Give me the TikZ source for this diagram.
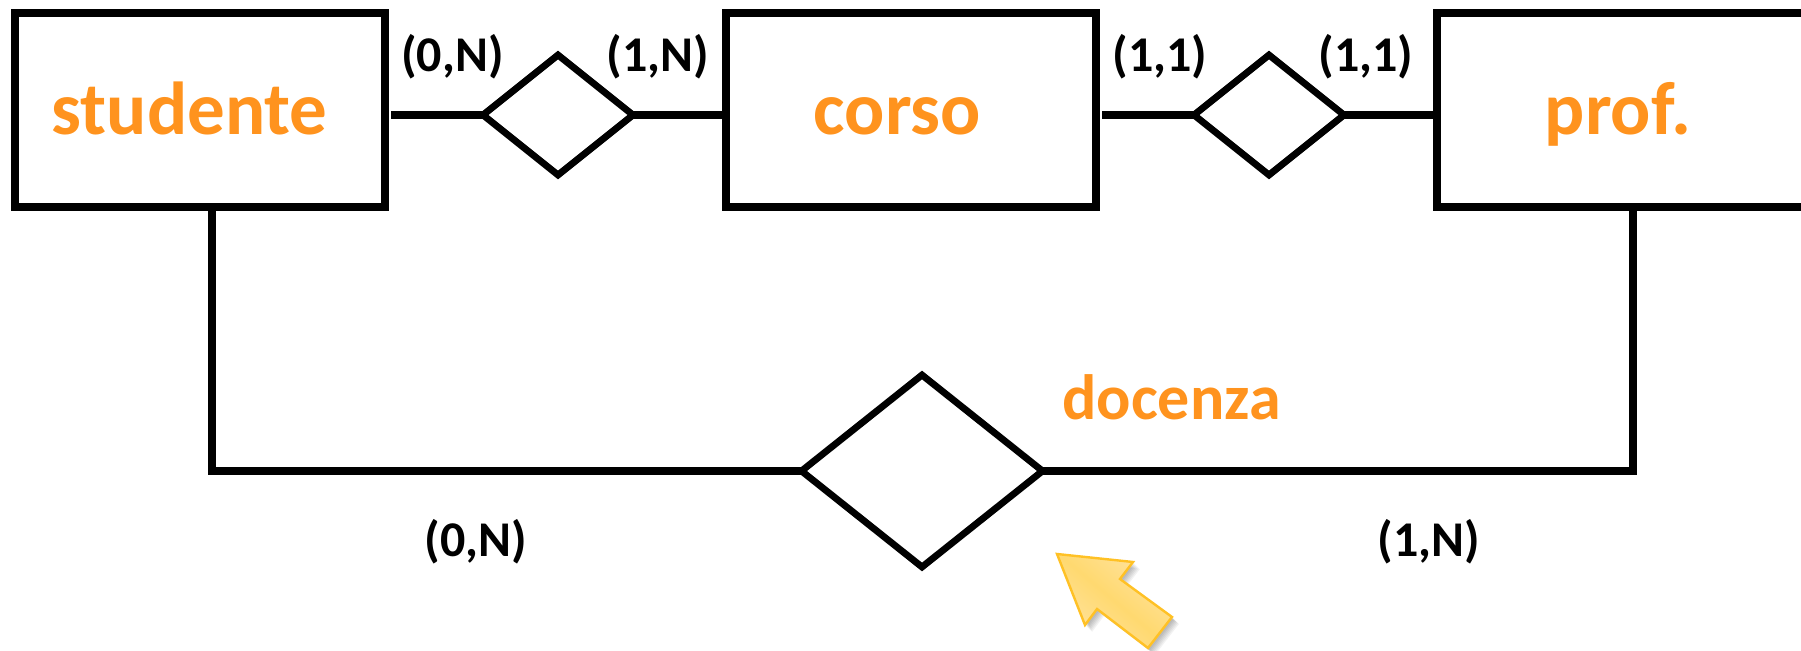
\documentclass[tikz,border=0pt]{standalone}
\usepackage{fontspec}
\setmainfont{Carlito}
\usetikzlibrary{shapes.geometric,positioning,calc}
\definecolor{titleorange}{HTML}{FF931E}
\definecolor{arrowlight}{HTML}{FFE3A0}
\definecolor{arrowmid}{HTML}{FFD970}
\definecolor{arrowedge}{HTML}{FFC125}
\tikzset{
  entity/.style={draw=black, line width=4pt, fill=white, minimum width=185pt, minimum height=97pt, inner sep=0pt},
  entityname/.style={anchor=base, inner sep=0pt, font=\bfseries\fontsize{37.5pt}{37.5pt}\selectfont, text=titleorange},
  relation/.style={draw=black, line width=3.4pt, fill=white, diamond, inner sep=0pt, outer sep=0pt},
  card/.style={anchor=base, font=\bfseries\fontsize{25pt}{25pt}\selectfont, text=black, inner sep=0pt},
  link/.style={draw=black, line width=3.8pt}
}
\begin{document}
\begin{tikzpicture}[x=0.5pt,y=-0.5pt]
  \useasboundingbox (0,0) rectangle (1801,651);
  % entities
  \node[entity] (studente) at (200,110) {};
  \node[entity] (corso) at (911,110) {};
  \node[entity] (prof) at (1622,110) {};
  \node[entityname] (studentename) at (189.5,135) {studente};
  \node[entityname] (corsoname) at (897.5,135) {corso};
  \node[entityname] (profname) at (1618,135) {prof.};
  % relations
  \node[relation, minimum width=75pt, minimum height=60pt] (frequenta) at (558,115) {};
  \node[relation, minimum width=75pt, minimum height=60pt] (tiene) at (1269,115) {};
  \node[relation, minimum width=120.5pt, minimum height=96pt] (docenza) at (922,471) {};
  % links
  \draw[link] (studente.east |- frequenta.west) ++(2,0) -- (frequenta.west);
  \draw[link] (frequenta.east) -- (corso.west |- frequenta.east);
  \draw[link] (corso.east |- tiene.west) ++(2,0) -- (tiene.west);
  \draw[link] (tiene.east) -- (prof.west |- tiene.east);
  \coordinate (cornerleft) at (212,471);
  \coordinate (cornerright) at (1633,471);
  \draw[link, line join=miter] (cornerleft |- studente.south) -- (cornerleft) -- (docenza.west);
  \draw[link, line join=miter] (cornerright |- prof.south) -- (cornerright) -- (docenza.east);
  % cardinalities
  \node[card] (cardA) at (452.5,71.5) {(0,N)};
  \node[card] (cardB) at (658,71.5) {(1,N)};
  \node[card] (cardC) at (1160,71.5) {(1,1)};
  \node[card] (cardD) at (1366,71.5) {(1,1)};
  \node[card] (cardE) at (476,556.5) {(0,N)};
  \node[card] (cardF) at (1429,556.5) {(1,N)};
  \node[entityname, font=\bfseries\fontsize{32pt}{32pt}\selectfont] (docname) at (1171.5,420) {docenza};
  % pointer arrow
  \foreach \s in {7,6,5,4,3,2}
    \fill[black, opacity=0.05] (1057+\s/2,554+\s/2) -- (1133+\s,562+\s) -- (1120+\s,579+\s) -- (1172+\s,617+\s) -- (1148+\s,648+\s) -- (1097+\s,609+\s) -- (1085+\s,625+\s) -- cycle;
  \draw[draw=arrowedge, line width=1.2pt, line join=miter, top color=arrowlight, bottom color=arrowlight, middle color=arrowmid, shading angle=-40] (1057,554) -- (1133,562) -- (1120,579) -- (1172,617) -- (1148,648) -- (1097,609) -- (1085,625) -- cycle;
\end{tikzpicture}
\end{document}
